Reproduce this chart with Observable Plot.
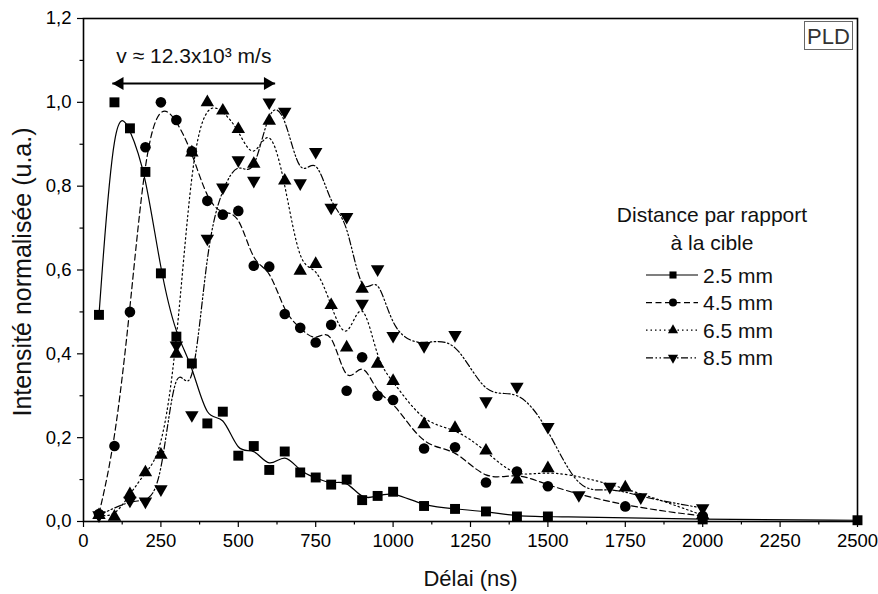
<!DOCTYPE html>
<html><head><meta charset="utf-8">
<script src="https://cdn.jsdelivr.net/npm/d3@7"></script>
<script src="https://cdn.jsdelivr.net/npm/@observablehq/plot@0.6"></script>
<style>
body{margin:0;background:#fff;}
#chart{position:relative;width:878px;height:594px;font-family:"Liberation Sans",Arial,sans-serif;color:#000;}
#chart svg{display:block;}
#overlay{position:absolute;left:0;top:0;pointer-events:none;}
</style></head><body><div id="chart"></div>
<script>
// ---- data ----
const seriesNames = ["2.5 mm", "4.5 mm", "6.5 mm", "8.5 mm"];
const delay25 = [50,100,150,200,250,300,350,400,450,500,550,600,650,700,750,800,850,900,950,1000,1100,1200,1300,1400,1500,2000,2500];
const int25   = [0.493,1.0,0.938,0.834,0.592,0.441,0.377,0.234,0.262,0.157,0.18,0.123,0.167,0.117,0.105,0.088,0.10,0.051,0.061,0.071,0.037,0.030,0.024,0.012,0.012,0.005,0.003];
const delay45 = [50,100,150,200,250,300,350,400,450,500,550,600,650,700,750,800,850,900,950,1000,1100,1200,1300,1400,1500,1750,2000];
const int45   = [0.018,0.18,0.5,0.893,1.0,0.958,0.883,0.765,0.732,0.741,0.61,0.608,0.495,0.462,0.427,0.469,0.312,0.392,0.30,0.29,0.174,0.177,0.093,0.119,0.084,0.036,0.013];
const delay65 = [50,100,150,200,250,300,350,400,450,500,550,600,650,700,750,800,850,900,950,1000,1100,1200,1300,1400,1500,1750,2000];
const int65   = [0.015,0.011,0.065,0.117,0.159,0.40,0.88,1.0,0.98,0.936,0.853,0.956,0.813,0.598,0.614,0.516,0.415,0.555,0.376,0.335,0.232,0.223,0.169,0.10,0.127,0.081,0.015];
const delay85 = [50,150,200,250,300,350,400,450,500,550,600,650,700,750,800,850,900,950,1000,1100,1200,1300,1400,1500,1600,1700,1800,2000];
const int85   = [0.015,0.05,0.048,0.077,0.42,0.254,0.675,0.797,0.862,0.813,1.0,0.978,0.807,0.882,0.749,0.727,0.52,0.602,0.443,0.419,0.445,0.287,0.322,0.226,0.063,0.083,0.058,0.032];

const xTicks = [0,250,500,750,1000,1250,1500,1750,2000,2250,2500];
const xMinor = [125,375,625,875,1125,1375,1625,1875,2125,2375];
const yTicks = [0,0.2,0.4,0.6,0.8,1.0,1.2];
const yTickLabels = ["0,0","0,2","0,4","0,6","0,8","1,0","1,2"];
const yMinor = [0.1,0.3,0.5,0.7,0.9,1.1];

const xTitle = "Délai (ns)";
const yTitle = "Intensité normalisée (u.a.)";
const legendTitle = ["Distance par rapport", "à la cible"];
const annotText = "v ≈ 12.3x10³ m/s";
const annotX = [106], annotY = [1.11];
const arrowEnds = [93, 619], arrowY = 1.045;
const boxLabel = "PLD";

// ---- build rows ----
function rowsOf(name, xs, ys){ return xs.map((x,i)=>({series:name, delay:x, value:ys[i]})); }
const d25 = rowsOf(seriesNames[0], delay25, int25);
const d45 = rowsOf(seriesNames[1], delay45, int45);
const d65 = rowsOf(seriesNames[2], delay65, int65);
const d85 = rowsOf(seriesNames[3], delay85, int85);

const dashes = [null, "6,3.5", "1.5,3", "7,2.5,1.5,2.5,1.5,2.5"];
const lw = 1.2;

const lineOpts = (i) => ({x:"delay", y:"value", curve:"basis", stroke:"black", strokeWidth:lw, strokeDasharray: dashes[i] || undefined});

const chart = Plot.plot({
  width: 878, height: 594,
  marginLeft: 83, marginRight: 21, marginTop: 18, marginBottom: 73,
  style: {fontFamily: '"Liberation Sans", Arial, sans-serif', background: "white", color: "black"},
  x: {domain: [0, 2500]},
  y: {domain: [0, 1.2]},
  marks: [
    Plot.line(d25, lineOpts(0)),
    Plot.line(d45, lineOpts(1)),
    Plot.line(d65, lineOpts(2)),
    Plot.line(d85, lineOpts(3)),
    Plot.dot(d25, {x:"delay", y:"value", symbol:"square", r:5.6, fill:"black"}),
    Plot.dot(d45, {x:"delay", y:"value", symbol:"circle", r:5.3, fill:"black"}),
    Plot.dot(d65, {x:"delay", y:"value", symbol:"triangle", r:5, fill:"black"}),
    Plot.dot(d85, {x:"delay", y:"value", symbol:"triangle", r:5, fill:"black", rotate:180}),
    // annotation
    Plot.link([0], {x1: () => arrowEnds[0], x2: () => arrowEnds[1], y1: () => arrowY, y2: () => arrowY, stroke:"black", strokeWidth:2}),
    Plot.dot([arrowEnds[0]], {x: d=>d, y: () => arrowY, symbol:"triangle", r:4.8, fill:"black", rotate:-90, dx:7.5}),
    Plot.dot([arrowEnds[1]], {x: d=>d, y: () => arrowY, symbol:"triangle", r:4.8, fill:"black", rotate:90, dx:-7.5}),
    Plot.text([annotText], {x: () => annotX[0], y: () => annotY[0], text: d=>d, textAnchor:"start", fontSize:21, fill:"#111"}),
    // axes
    Plot.axisX(xTicks, {tickSize:6, tickPadding:6, fontSize:18.5, tickFormat: d=>String(d), label:null, strokeWidth:1.2}),
    Plot.axisX(xMinor, {tickSize:3.5, tickFormat: ()=>"", label:null, strokeWidth:1.2}),
    Plot.axisY(yTicks, {tickSize:6, tickPadding:6, fontSize:18.5, tickFormat: (d)=>yTickLabels[yTicks.indexOf(d)], label:null, strokeWidth:1.2}),
    Plot.axisY(yMinor, {tickSize:3.5, tickFormat: ()=>"", label:null, strokeWidth:1.2}),
    Plot.text([xTitle], {frameAnchor:"bottom", dy:57, lineAnchor:"middle", textAnchor:"middle", text:d=>d, fontSize:22, fill:"#111"}),
    Plot.text([yTitle], {frameAnchor:"left", dx:-61, dy:2, rotate:-90, textAnchor:"middle", lineAnchor:"middle", text:d=>d, fontSize:25, fill:"#111"}),
    Plot.frame({stroke:"black", strokeWidth:1.6})
  ]
});
document.getElementById("chart").appendChild(chart);

// ---- legend + PLD box overlay ----
const ov = d3.select("#chart").append("svg").attr("id","overlay").attr("width",878).attr("height",594)
  .style("font-family",'"Liberation Sans", Arial, sans-serif');
ov.append("rect").attr("x",804.5).attr("y",21.5).attr("width",48).attr("height",28)
  .attr("fill","white").attr("stroke","#666").attr("stroke-width",1);
ov.append("text").attr("x",828.5).attr("y",43.5).attr("text-anchor","middle").attr("font-size",22).attr("fill","#333").text(boxLabel);

ov.append("text").attr("x",712).attr("y",222).attr("text-anchor","middle").attr("font-size",21).attr("fill","#111").text(legendTitle[0]);
ov.append("text").attr("x",712).attr("y",250).attr("text-anchor","middle").attr("font-size",21).attr("fill","#111").text(legendTitle[1]);
const legSyms = [d3.symbolSquare, d3.symbolCircle, d3.symbolTriangle, d3.symbolTriangle];
const legRot = [0,0,0,180];
const legSize = [50, 50, 45, 45];
seriesNames.forEach((name, i) => {
  const base = 282.5 + i*27.6;
  const cy = base - 7.5;
  ov.append("line").attr("x1",646).attr("x2",698).attr("y1",cy).attr("y2",cy)
    .attr("stroke","black").attr("stroke-width",lw).attr("stroke-dasharray", dashes[i] || null);
  ov.append("path").attr("d", d3.symbol(legSyms[i], legSize[i])())
    .attr("transform",`translate(673,${cy}) rotate(${legRot[i]})`).attr("fill","black");
  ov.append("text").attr("x",703).attr("y",base).attr("font-size",21).attr("fill","#111").text(name);
});
</script></body></html>
